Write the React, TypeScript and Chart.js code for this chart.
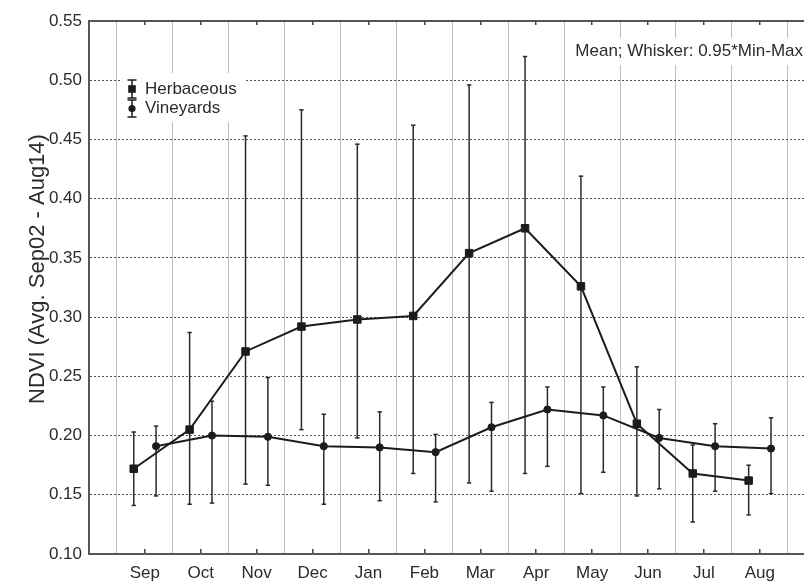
import React, { useEffect, useRef } from 'react';
import { Chart, registerables } from 'chart.js';

Chart.register(...registerables);

// ---- data ----
const months = ['Sep', 'Oct', 'Nov', 'Dec', 'Jan', 'Feb', 'Mar', 'Apr', 'May', 'Jun', 'Jul', 'Aug'];
const yTicks = [0.10, 0.15, 0.20, 0.25, 0.30, 0.35, 0.40, 0.45, 0.50, 0.55];

const herbMean = [0.172, 0.205, 0.271, 0.292, 0.298, 0.301, 0.354, 0.375, 0.326, 0.210, 0.168, 0.162];
const herbLow = [0.141, 0.142, 0.159, 0.205, 0.198, 0.168, 0.160, 0.168, 0.151, 0.149, 0.127, 0.133];
const herbHigh = [0.203, 0.287, 0.453, 0.475, 0.446, 0.462, 0.496, 0.520, 0.419, 0.258, 0.192, 0.175];

const vineMean = [0.191, 0.200, 0.199, 0.191, 0.190, 0.186, 0.207, 0.222, 0.217, 0.198, 0.191, 0.189];
const vineLow = [0.149, 0.143, 0.158, 0.142, 0.145, 0.144, 0.153, 0.174, 0.169, 0.155, 0.153, 0.151];
const vineHigh = [0.208, 0.229, 0.249, 0.218, 0.220, 0.201, 0.228, 0.241, 0.241, 0.222, 0.210, 0.215];

const seriesNames = ['Herbaceous', 'Vineyards'];
const annotationText = 'Mean; Whisker: 0.95*Min-Max';
const yTitle = 'NDVI (Avg. Sep02 - Aug14)';

const HERB_OFF = -0.2;
const VINE_OFF = 0.2;

const FONT = "'Liberation Sans', Arial, sans-serif";
const INK = '#1c1c1c';
const TEXT = '#2b2b2b';

const zeroPad = (s: any) => {
  s.paddingLeft = 0;
  s.paddingRight = 0;
  s.paddingTop = 0;
  s.paddingBottom = 0;
};

export default function App() {
  const ref = useRef<HTMLCanvasElement>(null);

  useEffect(() => {
    const canvas = ref.current!;
    const ctx = canvas.getContext('2d')!;

    const whiskers = (lows: number[], highs: number[], off: number) =>
      lows.map((lo, i) => ({
        label: '',
        data: [
          { x: i + off, y: lo },
          { x: i + off, y: highs[i] },
        ],
        showLine: true,
        borderColor: '#2a2a2a',
        borderWidth: 1.5,
        pointStyle: 'line',
        pointRadius: 2.2,
        pointBorderWidth: 1.5,
        pointBorderColor: '#2a2a2a',
        pointHoverRadius: 0,
      }));

    const overlay = {
      id: 'overlay',
      afterDraw(chart: any) {
        const c = chart.ctx as CanvasRenderingContext2D;
        c.save();
        // white boxes behind legend and annotation
        c.fillStyle = '#ffffff';
        c.fillRect(122, 73, 124, 49);
        c.fillRect(566, 38, 238, 27);

        // legend glyphs
        const glyph = (x: number, top: number, bot: number, style: string) => {
          c.strokeStyle = INK;
          c.lineWidth = 1.5;
          c.beginPath();
          c.moveTo(x, top); c.lineTo(x, bot);
          c.moveTo(x - 4.5, top); c.lineTo(x + 4.5, top);
          c.moveTo(x - 4.5, bot); c.lineTo(x + 4.5, bot);
          c.stroke();
          const m = (top + bot) / 2;
          c.fillStyle = INK;
          if (style === 'rect') {
            c.fillRect(x - 3.8, m - 3.8, 7.6, 7.6);
          } else {
            c.beginPath();
            c.arc(x, m, 3.6, 0, Math.PI * 2);
            c.fill();
          }
        };
        glyph(132, 80, 98, 'rect');
        glyph(132, 100, 117, 'circle');

        c.fillStyle = TEXT;
        c.font = `17px ${FONT}`;
        c.textBaseline = 'middle';
        c.textAlign = 'left';
        c.fillText(seriesNames[0], 145, 89);
        c.fillText(seriesNames[1], 145, 108);

        c.textAlign = 'right';
        c.fillText(annotationText, 803, 51);

        // y axis title
        c.translate(38, 269);
        c.rotate(-Math.PI / 2);
        c.textAlign = 'center';
        c.font = `22px ${FONT}`;
        c.fillText(yTitle, 0, 0);
        c.restore();
      },
    };

    const xMin = -1;
    const xMax = 11.79;

    const chart = new Chart(ctx, {
      type: 'scatter',
      data: {
        datasets: [
          {
            label: seriesNames[0],
            data: herbMean.map((v, i) => ({ x: i + HERB_OFF, y: v })),
            showLine: true,
            borderColor: INK,
            borderWidth: 2,
            pointStyle: 'rect',
            pointRadius: 5.3,
            pointBackgroundColor: INK,
            pointBorderColor: INK,
            pointBorderWidth: 1,
          },
          {
            label: seriesNames[1],
            data: vineMean.map((v, i) => ({ x: i + VINE_OFF, y: v })),
            showLine: true,
            borderColor: INK,
            borderWidth: 2,
            pointStyle: 'circle',
            pointRadius: 3.6,
            pointBackgroundColor: INK,
            pointBorderColor: INK,
            pointBorderWidth: 1,
          },
          ...whiskers(herbLow, herbHigh, HERB_OFF),
          ...whiskers(vineLow, vineHigh, VINE_OFF),
        ] as any,
      },
      options: {
        animation: false,
        responsive: false,
        events: [],
        layout: { padding: 0, autoPadding: false },
        plugins: {
          legend: { display: false },
          tooltip: { enabled: false },
          title: { display: false },
        },
        scales: {
          x: {
            type: 'linear',
            position: 'bottom',
            min: xMin,
            max: xMax,
            afterBuildTicks: (s: any) => {
              s.ticks = months.map((_, i) => ({ value: i }));
            },
            afterFit: (s: any) => {
              s.height = 28;
              zeroPad(s);
            },
            ticks: {
              callback: (v: any) => months[Math.round(Number(v))] ?? '',
              autoSkip: false,
              maxRotation: 0,
              padding: 14,
              color: TEXT,
              font: { family: FONT, size: 17 },
            },
            grid: {
              drawOnChartArea: false,
              drawTicks: true,
              tickLength: -5,
              color: '#444',
              lineWidth: 1.5,
            },
            border: { display: true, color: '#555', width: 2 },
          },
          xg: {
            type: 'linear',
            position: 'bottom',
            min: xMin,
            max: xMax,
            afterBuildTicks: (s: any) => {
              s.ticks = months.map((_, i) => ({ value: i - 0.5 })).concat([{ value: 11.5 }]);
            },
            afterFit: (s: any) => {
              s.height = 0;
              zeroPad(s);
            },
            ticks: { display: false },
            grid: {
              drawOnChartArea: true,
              drawTicks: false,
              color: '#bdbdbd',
              lineWidth: 1,
            },
            border: { display: false },
          },
          x2: {
            type: 'linear',
            position: 'top',
            min: xMin,
            max: xMax,
            afterBuildTicks: (s: any) => {
              s.ticks = months.map((_, i) => ({ value: i }));
            },
            afterFit: (s: any) => {
              s.height = 21;
              zeroPad(s);
            },
            ticks: { display: false },
            grid: {
              drawOnChartArea: false,
              drawTicks: true,
              tickLength: -4,
              color: '#444',
              lineWidth: 1.5,
            },
            border: { display: true, color: '#555', width: 2 },
          },
          y: {
            type: 'linear',
            min: 0.1,
            max: 0.55,
            afterBuildTicks: (s: any) => {
              s.ticks = yTicks.map((v) => ({ value: v }));
            },
            afterFit: (s: any) => {
              s.width = 89;
              zeroPad(s);
            },
            ticks: {
              callback: (v: any) => Number(v).toFixed(2),
              padding: 7,
              color: TEXT,
              font: { family: FONT, size: 17 },
            },
            grid: {
              drawTicks: false,
              color: '#555',
              lineWidth: 1,
            },
            border: { display: true, color: '#555', width: 2, dash: [2, 2] },
          },
        },
      } as any,
      plugins: [overlay],
    });

    return () => chart.destroy();
  }, []);

  return (
    <div style={{ position: 'fixed', left: 0, top: 0, width: 804, height: 582, background: '#fff' }}>
      <canvas ref={ref} width={804} height={582} style={{ display: 'block' }} />
    </div>
  );
}
